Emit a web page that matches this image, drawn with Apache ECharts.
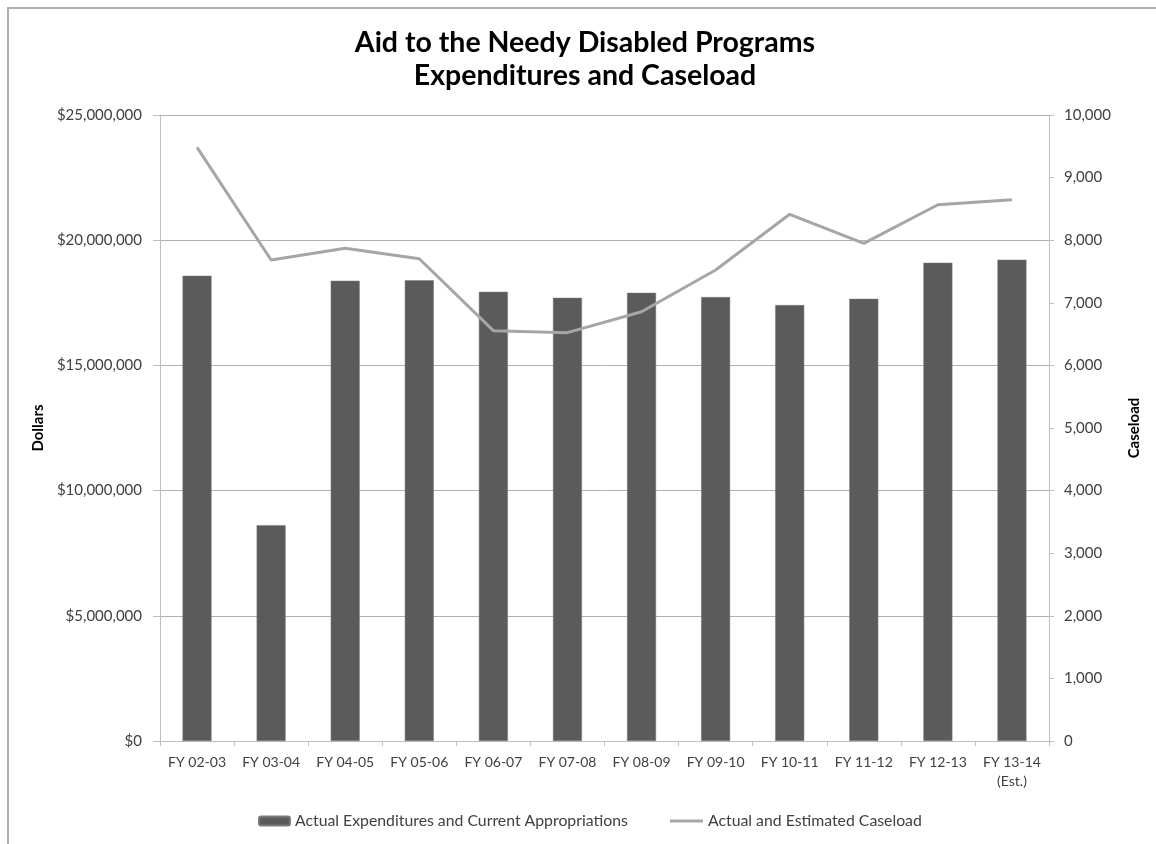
<!DOCTYPE html>
<html>
<head>
<meta charset="utf-8">
<script src="https://cdn.jsdelivr.net/npm/echarts@6/dist/echarts.min.js"></script>
<style>
html,body{margin:0;padding:0;background:#fff;}
#frame{position:absolute;left:7px;top:7px;width:1160px;height:850px;border-left:2px solid #b0b0b0;border-top:2px solid #b0b0b0;}
#chart{position:absolute;left:0;top:0;width:1156px;height:844px;}
</style>
</head>
<body>
<div id="frame"></div>
<div id="chart"></div>
<script>
const categories = ['FY 02-03','FY 03-04','FY 04-05','FY 05-06','FY 06-07','FY 07-08','FY 08-09','FY 09-10','FY 10-11','FY 11-12','FY 12-13','FY 13-14\n(Est.)'];
const expenditures = [18580000, 8620000, 18380000, 18400000, 17940000, 17700000, 17900000, 17730000, 17410000, 17660000, 19100000, 19220000];
const caseload = [9484, 7684, 7871, 7703, 6555, 6523, 6858, 7524, 8414, 7950, 8567, 8647];
const barName = 'Actual Expenditures and Current Appropriations';
const lineName = 'Actual and Estimated Caseload';

const FONT = 'Lato';
const chart = echarts.init(document.getElementById('chart'));
chart.setOption({
  animation: false,
  backgroundColor: 'transparent',
  textStyle: {fontFamily: FONT},
  title: {
    text: 'Aid to the Needy Disabled Programs\nExpenditures and Caseload',
    left: 580, top: 21, textAlign: 'center',
    textStyle: {fontFamily: FONT, fontSize: 28.5, fontWeight: 'bold', color: '#000', lineHeight: 33}
  },
  legend: [
    {data: [barName], left: 253, top: 808, itemWidth: 31, itemHeight: 9, itemGap: 5,
     textStyle: {fontFamily: FONT, fontSize: 15.8, color: '#404040'}},
    {data: [{name: lineName, icon: 'rect'}], left: 665, top: 808, itemWidth: 33, itemHeight: 3, itemGap: 5,
     textStyle: {fontFamily: FONT, fontSize: 15.8, color: '#404040'}}
  ],
  grid: {left: 160, right: 107, top: 115, bottom: 103},
  xAxis: {
    type: 'category', data: categories, boundaryGap: true,
    axisLine: {lineStyle: {color: '#bfbfbf', width: 1}},
    axisTick: {show: true, length: 5, lineStyle: {color: '#bfbfbf'}},
    axisLabel: {fontFamily: FONT, fontSize: 14, color: '#404040', margin: 12, lineHeight: 19, interval: 0}
  },
  yAxis: [
    {
      type: 'value', min: 0, max: 25000000, interval: 5000000,
      name: 'Dollars', nameLocation: 'middle', nameGap: 112, nameRotate: 90,
      nameTextStyle: {fontFamily: FONT, fontSize: 15, fontWeight: 'bold', color: '#000'},
      axisLine: {show: true, lineStyle: {color: '#bfbfbf'}},
      axisTick: {show: true, length: 7, lineStyle: {color: '#bfbfbf'}},
      axisLabel: {fontFamily: FONT, fontSize: 15, color: '#404040', margin: 18,
        formatter: v => '$' + v.toLocaleString('en-US')},
      splitLine: {show: true, lineStyle: {color: '#b0b0b0', width: 1}}
    },
    {
      type: 'value', min: 0, max: 10000, interval: 1000, position: 'right',
      name: 'Caseload', nameLocation: 'middle', nameGap: 78, nameRotate: 90,
      nameTextStyle: {fontFamily: FONT, fontSize: 15, fontWeight: 'bold', color: '#000'},
      axisLine: {show: true, lineStyle: {color: '#bfbfbf'}},
      axisTick: {show: true, length: 5, lineStyle: {color: '#bfbfbf'}},
      axisLabel: {fontFamily: FONT, fontSize: 15, color: '#404040', margin: 15,
        formatter: v => v.toLocaleString('en-US')},
      splitLine: {show: false}
    }
  ],
  series: [
    {
      name: barName, type: 'bar', yAxisIndex: 0, data: expenditures,
      barWidth: 29,
      itemStyle: {color: '#5b5b5b', borderColor: '#7a7a7a', borderWidth: 0.5}
    },
    {
      name: lineName, type: 'line', yAxisIndex: 1, data: caseload,
      symbol: 'none', showSymbol: false,
      lineStyle: {color: '#a6a6a6', width: 3},
      itemStyle: {color: '#a6a6a6'}
    }
  ]
});
</script>
</body>
</html>
